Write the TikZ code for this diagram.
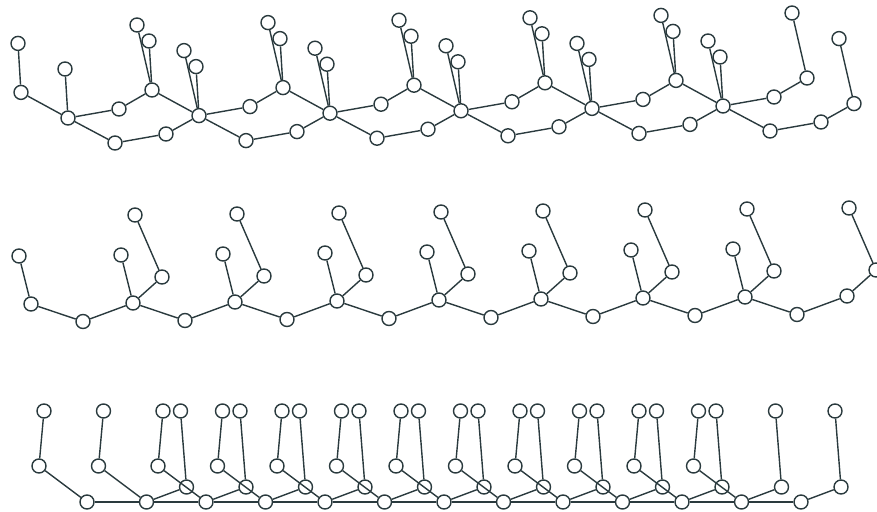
\documentclass[tikz,border=0pt]{standalone}
\usepackage{tikz}
\definecolor{slate}{RGB}{42,58,62}
\tikzset{vtx/.style={circle,draw,minimum size=14pt,inner sep=0pt}}
\begin{document}
\begin{tikzpicture}[x=1pt,y=-1pt,color=slate,line width=1.4pt]
\useasboundingbox (0,0) rectangle (877,511);
\foreach \k in {1,...,7}{
  \pgfmathsetmacro\hx{68+131*(\k-1)} \pgfmathsetmacro\hy{118-2.4*(\k-1)}
  \node[vtx] (th\k) at (\hx,\hy) {};
}
\foreach \k in {0,...,6}{
  \pgfmathsetmacro\hx{68+131*(\k-1)} \pgfmathsetmacro\hy{118-2.4*(\k-1)}
  \node[vtx] (tb\k) at (\hx+84,\hy-28) {};
}
\foreach \k in {1,...,6}{
  \pgfmathsetmacro\hx{68+131*(\k-1)} \pgfmathsetmacro\hy{118-2.4*(\k-1)}
  \pgfmathtruncatemacro\n{\k+1}
  \node[vtx] (tu\k) at (\hx+51,\hy-9) {};
  \node[vtx] (tp\k) at (\hx+47,\hy+25) {};
  \node[vtx] (tq\k) at (\hx+98,\hy+16) {};
  \draw (th\k) -- (tu\k) -- (tb\k);
  \draw (th\k) -- (tp\k) -- (tq\k) -- (th\n);
}
\draw (tb0) -- (th1);
\foreach \k in {1,...,5}{
  \pgfmathtruncatemacro\n{\k+1}
  \draw (tb\k) -- (th\n);
}
\foreach \k in {2,...,7}{
  \pgfmathsetmacro\hx{68+131*(\k-1)} \pgfmathsetmacro\hy{118-2.4*(\k-1)}
  \node[vtx] (tha\k) at (\hx-15,\hy-65) {};
  \draw (th\k) -- (tha\k);
}
\foreach \k in {1,...,6}{
  \pgfmathsetmacro\hx{68+131*(\k-1)} \pgfmathsetmacro\hy{118-2.4*(\k-1)}
  \node[vtx] (thb\k) at (\hx-3,\hy-49) {};
  \node[vtx] (tba\k) at (\hx+69,\hy-93) {};
  \draw (th\k) -- (thb\k);
  \draw (tb\k) -- (tba\k);
}
\foreach \k in {0,...,5}{
  \pgfmathsetmacro\hx{68+131*(\k-1)} \pgfmathsetmacro\hy{118-2.4*(\k-1)}
  \node[vtx] (tbb\k) at (\hx+81,\hy-77) {};
  \draw (tb\k) -- (tbb\k);
}
\foreach \k in {0,...,8}
  \node[vtx] (mh\k) at (31+102*\k,304-\k) {};
\foreach \k in {0,...,7}{
  \pgfmathtruncatemacro\n{\k+1}
  \node[vtx] (mv\k) at (83+102*\k,321.5-\k) {};
  \node[vtx] (ms\k) at (19+102*\k,256-\k) {};
  \draw (mh\k) -- (mv\k) -- (mh\n);
  \draw (mh\k) -- (ms\k);
}
\foreach \k in {1,...,8}{
  \node[vtx] (mp\k) at (60+102*\k,278-\k) {};
  \node[vtx] (mq\k) at (33+102*\k,216-\k) {};
  \draw (mh\k) -- (mp\k) -- (mq\k);
}
\foreach \k in {0,...,12}
  \node[vtx] (bh\k) at (87+59.5*\k,502) {};
\foreach \k in {0,...,11}{
  \pgfmathtruncatemacro\n{\k+1}
  \node[vtx] (bl\k) at (39+59.5*\k,466) {};
  \node[vtx] (bla\k) at (44+59.5*\k,411) {};
  \draw (bla\k) -- (bl\k) -- (bh\k);
  \draw (bh\k) -- (bh\n);
}
\foreach \k in {1,...,12}{
  \node[vtx] (br\k) at (127+59.5*\k,487) {};
  \node[vtx] (bra\k) at (121+59.5*\k,411) {};
  \draw (bra\k) -- (br\k) -- (bh\k);
}
\end{tikzpicture}
\end{document}
